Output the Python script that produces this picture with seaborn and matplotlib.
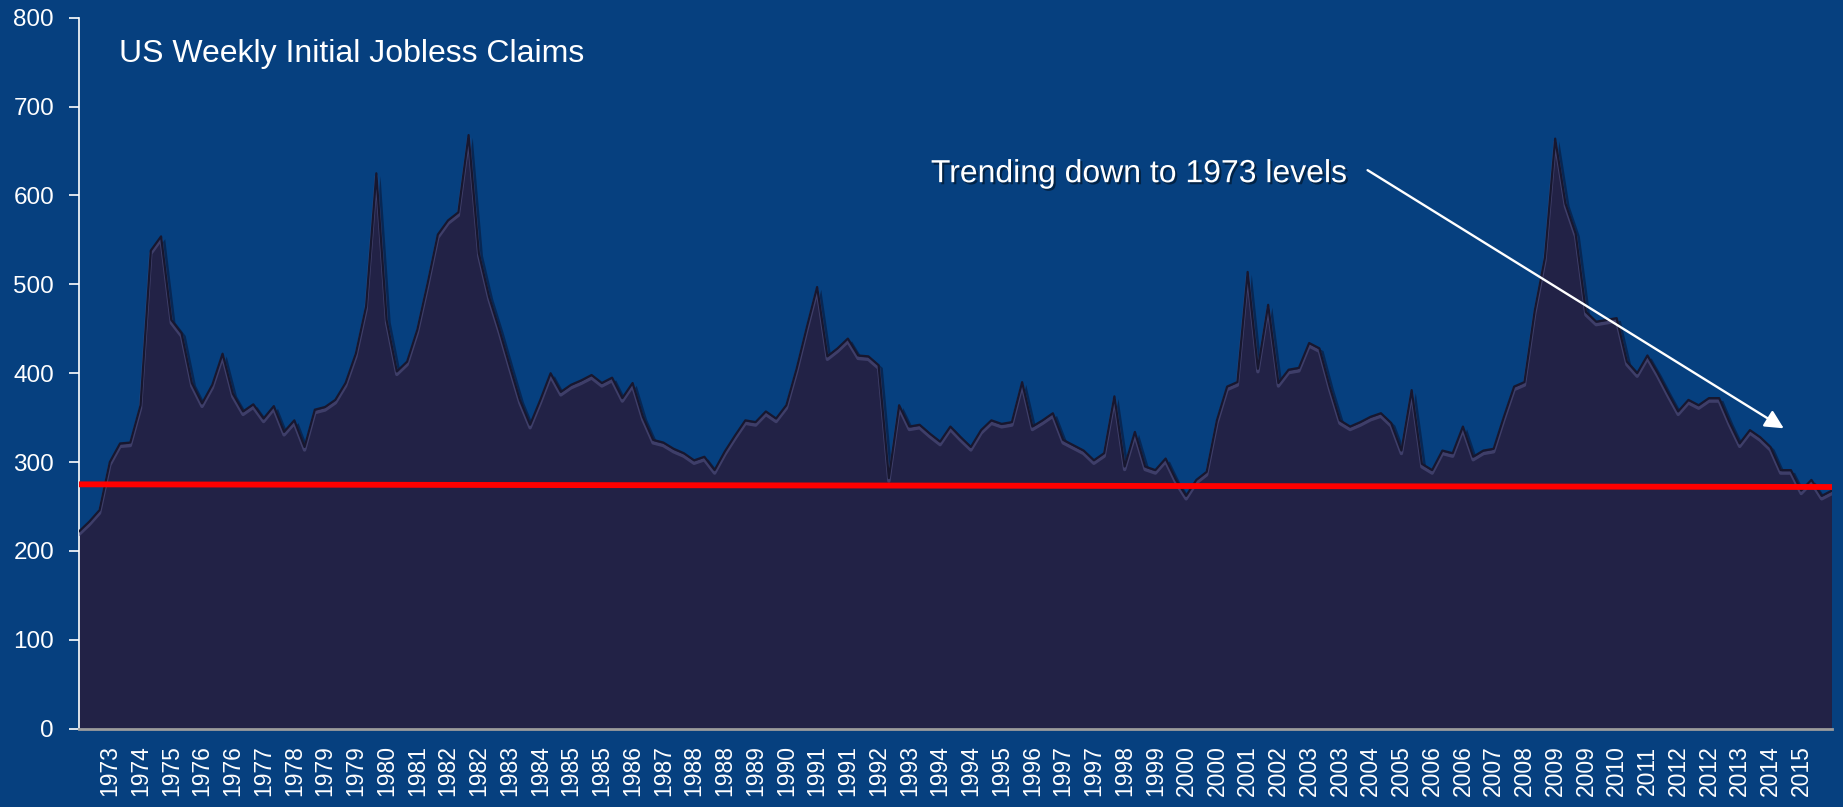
import pandas as pd
import matplotlib.pyplot as plt
import matplotlib.patheffects as pe
from matplotlib.transforms import offset_copy
import seaborn as sns

# quarterly readings of weekly initial claims (thousands), 1973 -> 2015
claims = [
    222, 233, 246, 300, 321, 322, 364, 538, 554, 460,
    445, 389, 366, 387, 422, 377, 357, 365, 349, 363,
    334, 347, 317, 359, 362, 370, 389, 422, 475, 625,
    460, 402, 413, 449, 501, 556, 572, 581, 668, 535,
    486, 449, 409, 370, 342, 370, 400, 379, 387, 392,
    398, 389, 395, 372, 389, 351, 325, 322, 315, 310,
    302, 306, 291, 312, 330, 347, 345, 357, 349, 364,
    405, 452, 497, 419, 428, 439, 420, 419, 409, 282,
    364, 340, 342, 332, 323, 340, 328, 317, 336, 347,
    343, 345, 390, 340, 347, 355, 325, 319, 313, 302,
    310, 374, 295, 334, 295, 291, 304, 280, 262, 280,
    289, 347, 385, 390, 514, 405, 477, 389, 404, 406,
    434, 428, 385, 347, 340, 345, 351, 355, 344, 313,
    381, 298, 291, 313, 310, 340, 306, 313, 315, 351,
    385, 390, 470, 530, 664, 591, 557, 469, 458, 460,
    462, 413, 400, 420, 400, 378, 357, 370, 364, 372,
    372, 345, 321, 336, 328, 317, 291, 291, 268, 280,
    262, 268,
]

# axis labels, one every third quarter
year_labels = [
    '1973', '1974', '1975', '1976', '1976', '1977', '1978', '1979', '1979',
    '1980', '1981', '1982', '1982', '1983', '1984', '1985', '1985', '1986',
    '1987', '1988', '1988', '1989', '1990', '1991', '1991', '1992', '1993',
    '1994', '1994', '1995', '1996', '1997', '1997', '1998', '1999', '2000',
    '2000', '2001', '2002', '2003', '2003', '2004', '2005', '2006', '2006',
    '2007', '2008', '2009', '2009', '2010', '2011', '2012', '2012', '2013',
    '2014', '2015',
]

red_level = [275, 272]
title = 'US Weekly Initial Jobless Claims'
note = 'Trending down to 1973 levels'

bg = '#06407f'
fill = '#222246'

df = pd.DataFrame({'q': range(len(claims)), 'claims': claims})

sns.set_style('white')
plt.rcParams['font.family'] = ['Liberation Sans', 'DejaVu Sans']

fig = plt.figure(figsize=(18.43, 8.07), dpi=100, facecolor=bg)
ax = fig.add_axes([0.0429, 0.097, 0.9511, 0.881], facecolor=bg)

# the filled area with a soft drop shadow
area = ax.fill_between(df.q, df.claims, 0, color=fill, lw=0, zorder=2)
area.set_path_effects([pe.SimplePatchShadow(offset=(3, -2), shadow_rgbFace='#0a0a20', alpha=0.45),
                       pe.Normal()])

# bevel look: light rim just under a dark outline
rim = offset_copy(ax.transData, fig=fig, y=-3, units='dots')
sns.lineplot(data=df, x='q', y='claims', ax=ax, color='#565687', lw=2.4, alpha=0.55,
             transform=rim, zorder=3)
sns.lineplot(data=df, x='q', y='claims', ax=ax, color='#17172f', lw=1.6, zorder=4)

# red reference level
sns.lineplot(x=[df.q.min(), df.q.max()], y=red_level, ax=ax, color='#ff0000', lw=4.2, zorder=5)

ax.set_xlim(df.q.min(), df.q.max())
ax.set_ylim(0, 800)
ax.set_yticks(range(0, 801, 100))
ax.set_xticks(range(3, 3 * len(year_labels) + 1, 3))
ax.set_xticklabels(year_labels, rotation=90)
ax.set_xlabel('')
ax.set_ylabel('')

ax.tick_params(axis='y', colors='white', labelsize=17.5, length=7, width=1.2, pad=11,
               direction='out', left=True)
ax.tick_params(axis='x', colors='white', labelsize=16.5, length=0, pad=12)

for s in ['top', 'right']:
    ax.spines[s].set_visible(False)
ax.spines['left'].set_color('white')
ax.spines['left'].set_linewidth(1.2)
ax.spines['bottom'].set_color('#9c9c9c')
ax.spines['bottom'].set_linewidth(2)
ax.spines['bottom'].set_zorder(6)

# title and annotation
fig.text(0.0644, 0.923, title, color='white', fontsize=23, va='baseline', ha='left')
ax.text(83.1, 615, note, color='white', fontsize=23, va='baseline', ha='left', zorder=7,
        path_effects=[pe.SimplePatchShadow(offset=(1.5, -1.5), shadow_rgbFace='black', alpha=0.45),
                      pe.Normal()])
ax.annotate('', xy=(166.3, 338), xytext=(125.7, 628.5), zorder=7,
            arrowprops=dict(arrowstyle='-|>', color='white', lw=1.7, mutation_scale=28,
                            shrinkA=0, shrinkB=0))

fig.savefig('out.png', dpi=100, facecolor=bg)
